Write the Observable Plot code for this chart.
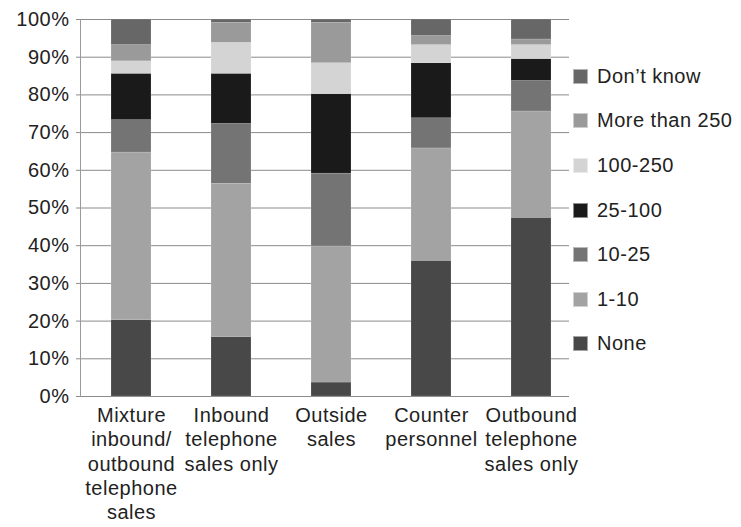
<!DOCTYPE html>
<html>
<head>
<meta charset="utf-8">
<script src="https://cdn.jsdelivr.net/npm/d3@7"></script>
<script src="https://cdn.jsdelivr.net/npm/@observablehq/plot@0.6"></script>
<style>
  html, body { margin: 0; padding: 0; background: #fff; }
  #wrap { position: relative; width: 741px; height: 527px; font-family: "Liberation Sans", Arial, sans-serif; }
  #legend { position: absolute; left: 573px; top: 0; }
  .item { position: absolute; left: 0; display: flex; align-items: center; white-space: nowrap; font-size: 20px; letter-spacing: 0.5px; color: #222; height: 22px; }
  .sw { width: 15px; height: 15px; margin-right: 9px; box-sizing: border-box; border: 1px solid rgba(255,255,255,0.5); }
</style>
</head>
<body>
<div id="wrap"><div id="legend"></div></div>
<script>
// Categories (bars) and their wrapped tick labels
const channels = ["Mixture", "Inbound", "Outside", "Counter", "Outbound"];
const channelLabels = [
  "Mixture\ninbound/\noutbound\ntelephone\nsales",
  "Inbound\ntelephone\nsales only",
  "Outside\nsales",
  "Counter\npersonnel",
  "Outbound\ntelephone\nsales only"
];
// Series, bottom to top
const seriesNames = ["None", "1-10", "10-25", "25-100", "100-250", "More than 250", "Don\u2019t know"];
const seriesColors = ["#484848", "#a3a3a3", "#747474", "#1a1a1a", "#d4d4d4", "#9a9a9a", "#676767"];
// Values (percent) per series, one per channel
const none       = [20.3, 15.8, 3.7, 36.0, 47.4];
const one10      = [44.4, 40.6, 36.1, 29.8, 28.2];
const ten25      = [8.6, 15.9, 19.3, 8.0, 8.1];
const t25_100    = [12.3, 13.3, 21.1, 14.6, 5.8];
const h100_250   = [3.3, 8.2, 8.2, 4.8, 3.7];
const more250    = [4.3, 5.3, 10.7, 2.4, 1.5];
const dontKnow   = [6.8, 0.9, 0.9, 4.4, 5.3];
const yTicks = [0, 0.1, 0.2, 0.3, 0.4, 0.5, 0.6, 0.7, 0.8, 0.9, 1.0];

const seriesValues = [none, one10, ten25, t25_100, h100_250, more250, dontKnow];
const data = [];
seriesNames.forEach((s, i) => channels.forEach((c, j) => data.push({channel: c, series: s, value: seriesValues[i][j] / 100})));
const labelOf = new Map(channels.map((c, i) => [c, channelLabels[i]]));

const chart = Plot.plot({
  width: 741,
  height: 527,
  marginLeft: 80,
  marginRight: 172,
  marginTop: 19,
  marginBottom: 131,
  style: {fontFamily: "'Liberation Sans', Arial, sans-serif", fontSize: "20px", letterSpacing: "0.5px", color: "#222", background: "#fff", overflow: "visible"},
  x: {domain: channels, range: [79.6, 583.4], paddingInner: 0.6, paddingOuter: 0.3, label: null},
  y: {domain: [0, 1], label: null},
  color: {domain: seriesNames, range: seriesColors},
  marks: [
    Plot.gridY(yTicks, {stroke: "#8a8a8a", strokeOpacity: 1}),
    Plot.frame({anchor: "left", stroke: "#9a9a9a"}),
    Plot.barY(data, {x: "channel", y: "value", fill: "series", order: seriesNames, stroke: "#ffffff", strokeOpacity: 0.25, strokeWidth: 0.6}),
    Plot.axisY(yTicks, {tickFormat: d3.format(".0%"), tickSize: 4, tickPadding: 7, stroke: "#8a8a8a", fontSize: 20, label: null}),
    Plot.axisX({tickFormat: d => labelOf.get(d), tickSize: 0, tickPadding: 8, fontSize: 20, lineHeight: 1.22, label: null})
  ]
});
document.getElementById("wrap").prepend(chart);

const legend = document.getElementById("legend");
const legendCenters = [76, 120.7, 165.3, 210, 254.5, 299, 343.7];
const order = [6, 5, 4, 3, 2, 1, 0];
order.forEach((idx, k) => {
  const it = document.createElement("div");
  it.className = "item";
  it.style.top = (legendCenters[k] - 11) + "px";
  const sw = document.createElement("div");
  sw.className = "sw";
  sw.style.background = seriesColors[idx];
  const tx = document.createElement("span");
  tx.textContent = seriesNames[idx];
  it.appendChild(sw); it.appendChild(tx);
  legend.appendChild(it);
});
</script>
</body>
</html>
